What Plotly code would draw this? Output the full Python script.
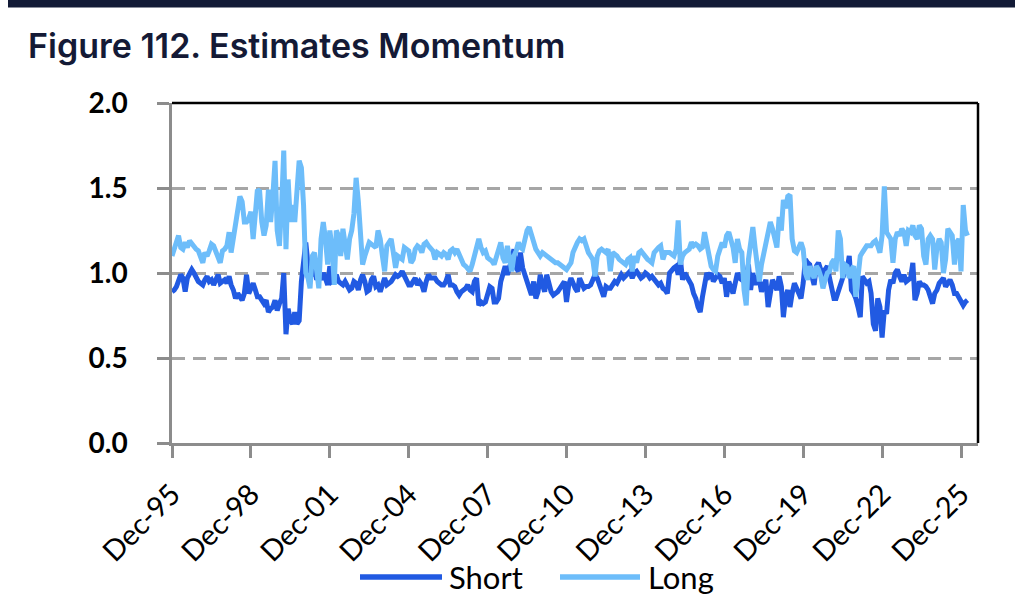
import pandas as pd
import plotly.graph_objects as go

start_month = "1995-12-01"

short_vals = [
    0.89,0.90,0.92,0.95,0.99,0.97,0.89,0.97,0.99,1.02,1.00,0.97,
    0.95,0.94,0.93,0.96,0.98,0.95,0.96,0.93,0.96,0.99,0.94,0.95,
    0.96,0.94,0.98,0.93,0.90,0.85,0.88,0.86,0.84,0.88,0.99,0.88,
    0.92,0.94,0.90,0.86,0.86,0.84,0.82,0.84,0.77,0.79,0.80,0.84,
    0.78,0.82,0.85,1.00,0.64,0.79,0.72,0.70,0.77,0.70,0.72,0.95,
    1.10,1.18,1.05,1.01,1.00,1.03,0.96,0.99,0.96,1.00,0.97,0.93,
    1.04,0.95,0.96,0.99,0.95,0.94,0.93,0.95,0.93,0.90,0.91,0.95,
    0.94,0.90,0.96,0.99,0.95,0.89,0.90,0.96,0.98,0.92,0.93,0.89,
    0.93,0.97,0.93,0.94,0.95,0.97,0.99,0.98,0.99,1.01,0.98,0.95,
    0.93,0.93,0.95,0.97,0.93,0.95,0.93,0.89,0.95,0.99,0.97,0.97,
    0.97,0.95,0.94,0.93,0.93,0.95,0.99,0.93,0.93,0.92,0.89,0.87,
    0.89,0.90,0.91,0.93,0.90,0.89,0.95,0.97,0.81,0.83,0.82,0.83,
    0.89,0.92,0.91,0.83,0.83,0.85,0.95,1.01,1.04,0.99,1.03,1.08,
    1.14,1.03,1.01,1.12,1.03,0.99,0.95,0.89,0.87,0.95,0.85,0.89,
    0.99,0.93,0.89,0.99,0.93,0.89,0.87,0.88,0.89,0.91,0.93,0.95,
    0.83,0.93,0.97,0.93,0.91,0.89,0.97,
    0.94,0.91,0.92,0.92,0.93,0.96,0.99,0.97,0.94,0.90,0.86,0.92,0.91,
    0.91,0.93,0.95,0.94,0.97,0.99,0.97,0.98,1.00,1.01,0.97,1.00,
    1.01,0.99,0.97,0.98,1.00,0.99,0.97,0.98,0.96,0.94,0.93,0.94,
    0.91,0.90,0.88,1.00,1.02,1.03,1.04,0.99,1.08,0.96,1.00,0.98,
    0.96,0.93,0.88,0.85,0.80,0.77,0.86,0.93,1.00,0.98,1.00,0.95,
    0.97,0.99,0.98,0.94,0.97,0.86,0.95,0.91,0.88,0.94,1.00,0.97,
    0.96,1.02,0.98,1.05,0.90,1.00,0.93,0.98,0.96,0.89,0.92,0.96,
    0.80,0.88,0.96,0.93,0.90,0.98,
    0.92,0.74,
    0.86,0.90,0.80,0.88,0.94,0.91,0.88,0.85,0.94,1.08,1.06,1.05,
    0.98,0.93,1.04,1.06,1.02,0.97,1.02,1.04,0.97,0.89,0.85,0.85,
    0.90,0.94,0.97,1.00,1.02,1.10,0.90,0.88,0.85,0.80,0.74,0.98,
    0.96,0.94,0.95,0.88,0.70,0.66,0.85,0.80,0.62,0.78,0.76,0.90,
    0.96,0.94,1.00,1.02,0.98,0.95,0.99,0.95,0.96,0.97,1.06,0.84,
    0.88,0.95,0.93,0.93,0.92,0.90,0.86,0.82,0.88,0.90,0.94,0.95,
    0.97,0.92,0.94,0.96,0.93,0.88,0.88,0.86,0.84,0.81,0.83,0.84,
]

long_vals = [
    1.10,1.14,1.18,1.22,1.15,1.14,1.18,1.15,1.19,1.17,1.15,1.14,
    1.13,1.10,1.06,1.12,1.10,1.13,1.17,1.16,1.12,1.10,1.06,1.13,
    1.14,1.16,1.24,1.12,1.20,1.30,1.40,1.45,1.42,1.30,1.30,1.32,
    1.36,1.20,1.35,1.49,1.48,1.30,1.22,1.28,1.49,1.30,1.45,1.66,
    1.25,1.16,1.40,1.72,1.14,1.55,1.30,1.40,1.30,1.55,1.66,1.62,
    1.40,1.00,0.97,0.91,1.10,1.12,1.00,0.91,1.20,1.30,1.20,1.05,
    1.25,1.15,0.93,1.25,1.22,1.10,1.26,1.15,1.08,1.20,1.25,1.35,
    1.56,1.42,1.20,1.05,1.10,1.15,1.18,1.17,1.16,1.15,1.25,1.20,
    1.10,1.01,1.16,1.18,1.20,1.12,1.03,1.10,1.09,1.08,1.15,1.14,
    1.13,1.06,1.08,1.14,1.16,1.15,1.12,1.17,1.18,1.16,1.14,1.13,
    1.08,1.12,1.11,1.10,1.12,1.11,1.08,1.13,1.14,1.12,1.14,1.11,
    1.08,1.05,1.04,1.03,1.01,1.05,1.10,1.16,1.20,1.15,1.12,1.13,
    1.09,1.08,1.07,1.05,1.10,1.14,1.18,1.09,1.06,1.16,1.08,1.01,
    1.10,1.13,1.18,1.15,1.14,1.20,1.25,1.27,1.22,1.17,1.14,1.12,
    1.10,1.12,1.11,1.10,1.09,1.08,1.07,1.06,1.06,1.05,1.04,1.03,
    1.02,1.04,1.06,1.12,1.16,1.18,1.20,
    1.19,1.20,1.15,1.12,1.10,1.08,0.98,1.10,1.13,1.14,1.13,1.12,1.14,
    1.01,1.12,1.11,1.10,1.08,1.07,1.06,1.05,1.08,1.09,1.01,1.10,
    1.06,1.12,1.13,1.11,1.10,1.08,1.07,1.06,1.12,1.14,1.15,1.16,
    1.08,1.12,1.12,1.12,1.11,1.10,1.14,1.31,1.05,1.10,1.12,1.13,
    1.14,1.18,1.16,1.17,1.16,1.14,1.15,1.24,1.16,1.08,1.04,1.02,
    1.01,1.10,1.14,1.18,1.15,1.22,1.24,1.20,1.15,1.06,1.20,1.14,
    1.12,0.90,0.81,1.08,1.18,1.27,1.15,1.04,0.95,1.05,1.12,1.18,
    1.24,1.30,1.26,1.20,1.15,1.33,
    1.25,1.43,
    1.38,1.45,1.46,1.20,1.13,1.12,1.15,1.18,1.14,1.00,0.96,1.04,
    1.00,0.97,1.04,1.02,0.98,0.91,0.96,1.00,1.01,1.06,1.08,1.01,
    1.25,1.20,0.97,1.05,1.04,0.97,1.02,1.04,0.86,1.00,1.10,1.12,
    1.14,1.16,1.16,1.16,1.18,1.19,1.16,1.12,1.22,1.51,1.24,1.22,
    1.20,1.06,1.20,1.24,1.22,1.26,1.24,1.16,1.25,1.24,1.28,1.22,
    1.20,1.28,1.26,1.10,1.05,1.20,1.22,1.20,1.02,1.15,1.20,1.18,
    1.00,1.08,1.26,1.24,1.22,1.05,1.18,1.20,1.01,1.40,1.25,1.22,
]

tick_dates = ["1995-12-01", "1998-12-01", "2001-12-01", "2004-12-01", "2007-12-01",
              "2010-12-01", "2013-12-01", "2016-12-01", "2019-12-01", "2022-12-01",
              "2025-12-01"]
tick_labels = ["Dec-95", "Dec-98", "Dec-01", "Dec-04", "Dec-07", "Dec-10",
               "Dec-13", "Dec-16", "Dec-19", "Dec-22", "Dec-25"]
series_names = ["Short", "Long"]

short_dates = pd.date_range(start_month, periods=len(short_vals), freq="MS")
long_dates = pd.date_range(start_month, periods=len(long_vals), freq="MS")

SHORT_C = "#215AE2"
LONG_C = "#6DBDFA"
TXT_FONT = "Lato, Liberation Sans, Arial"

fig = go.Figure()
fig.add_trace(go.Scatter(x=short_dates, y=short_vals, mode="lines", name=series_names[0],
                         line=dict(color=SHORT_C, width=5), showlegend=False))
fig.add_trace(go.Scatter(x=long_dates, y=long_vals, mode="lines", name=series_names[1],
                         line=dict(color=LONG_C, width=5), showlegend=False))

W, H = 1015, 604
L, R, T, B = 172, 978, 103, 443
pw, ph = R - L, B - T


def px(xp):
    return (xp - L) / pw


def py(yp):
    return (B - yp) / ph


fig.update_layout(
    width=W, height=H,
    margin=dict(l=L, r=W - R, t=T, b=H - B, pad=0),
    paper_bgcolor="white", plot_bgcolor="white",
    showlegend=False,
    xaxis=dict(type="date", range=["1995-12-01", "2026-07-25"],
               tickvals=tick_dates, ticktext=tick_labels, tickangle=-45,
               ticks="outside", ticklen=12, tickwidth=2.5, tickcolor="#8c8c8c",
               showline=True, linecolor="#8c8c8c", linewidth=2.5,
               showgrid=False, zeroline=False, ticklabelstandoff=8,
               tickfont=dict(family=TXT_FONT, size=29, color="#000000")),
    yaxis=dict(range=[0, 2], tickvals=[0, 0.5, 1.0, 1.5, 2.0], tickformat=".1f",
               ticks="outside", ticklen=12, tickwidth=2.5, tickcolor="#8c8c8c",
               showline=True, linecolor="#8c8c8c", linewidth=2.5,
               showgrid=True, gridcolor="#a6a6a6", gridwidth=2.5, griddash="13px,8px",
               zeroline=False, ticklabelstandoff=24,
               tickfont=dict(family=TXT_FONT, size=28, color="#000000", weight="bold")),
)

# top and right frame lines
fig.add_shape(type="line", xref="paper", yref="paper", x0=0, x1=1, y0=1, y1=1,
              line=dict(color="#000000", width=2.5), layer="above")
fig.add_shape(type="line", xref="paper", yref="paper", x0=1, x1=1, y0=0, y1=1,
              line=dict(color="#000000", width=2.5), layer="above")

# navy header bar
fig.add_shape(type="rect", xref="paper", yref="paper",
              x0=px(8), x1=px(W + 2), y0=py(7.5), y1=py(-2),
              fillcolor="#121a36", line=dict(width=0), layer="above")

fig.add_annotation(text="Figure 112. Estimates Momentum", xref="paper", yref="paper",
                   x=px(26), y=py(46), xanchor="left", yanchor="middle",
                   showarrow=False,
                   font=dict(family="Inter", size=34, color="#141a36", weight=600))

# legend (drawn manually to match long line samples)
legend_items = [(series_names[0], SHORT_C, 360, 442, 447),
                (series_names[1], LONG_C, 560, 640, 646)]
for name, col, x0, x1, xt in legend_items:
    fig.add_shape(type="line", xref="paper", yref="paper",
                  x0=px(x0), x1=px(x1), y0=py(577), y1=py(577),
                  line=dict(color=col, width=5.5))
    fig.add_annotation(text=name, xref="paper", yref="paper", x=px(xt), y=py(577),
                       xanchor="left", yanchor="middle", showarrow=False,
                       font=dict(family=TXT_FONT, size=31, color="#000000"))

fig.write_html("out.html", config={"displayModeBar": False},
               post_script="document.body.style.margin='0';")
